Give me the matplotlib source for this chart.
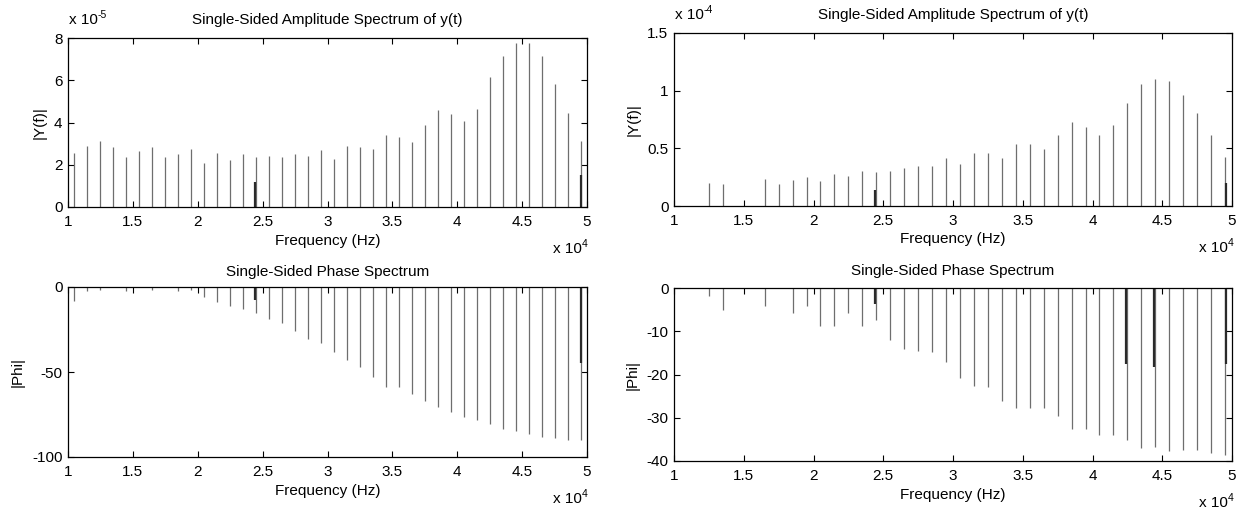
import numpy as np
import matplotlib
matplotlib.use("Agg")
import matplotlib.pyplot as plt

plt.rcParams['font.family'] = ['Liberation Sans', 'DejaVu Sans']
plt.rcParams['axes.unicode_minus'] = False

# Frequencies (Hz) of the main spectral lines
freq = np.arange(40) * 1000 + 10500

# Amplitude spectrum, left (units of 1e-5)
amp_left = [2.57, 2.89, 3.11, 2.82, 2.35, 2.63, 2.82, 2.35, 2.52, 2.76,
            2.10, 2.57, 2.22, 2.52, 2.35, 2.41, 2.35, 2.52, 2.41, 2.70,
            2.29, 2.89, 2.82, 2.76, 3.42, 3.30, 3.06, 3.88, 4.61, 4.42,
            4.05, 4.65, 6.14, 7.15, 7.74, 7.74, 7.15, 5.84, 4.46, 3.11]
amp_left_extra_f = [24400, 49550]
amp_left_extra = [1.16, 1.50]

# Amplitude spectrum, right (units of 1e-4)
amp_right = [0, 0, 0.203, 0.194, 0, 0, 0.238, 0.194, 0.226, 0.249,
             0.215, 0.281, 0.261, 0.305, 0.293, 0.305, 0.328, 0.351, 0.348, 0.415,
             0.360, 0.458, 0.458, 0.415, 0.537, 0.537, 0.493, 0.615, 0.725, 0.682,
             0.615, 0.705, 0.891, 1.059, 1.105, 1.085, 0.960, 0.804, 0.615, 0.426]
amp_right_extra_f = [24400, 49550]
amp_right_extra = [0.136, 0.203]

# Phase spectrum, left
phi_left = [-8.1, -2.6, -2.0, 0, -2.6, 0, -1.8, 0, -2.6, -1.8,
            -5.9, -9.1, -11.0, -13.0, -15.0, -18.9, -20.9, -25.8, -30.5, -32.7,
            -38.0, -42.9, -46.9, -53.0, -58.7, -58.7, -63.2, -66.9, -70.5, -73.4,
            -76.4, -78.0, -80.3, -83.3, -84.8, -86.2, -88.2, -88.8, -89.8, -89.8]
phi_left_extra_f = [24400, 49550]
phi_left_extra = [-7.5, -44.9]

# Phase spectrum, right
phi_right = [0, 0, -1.86, -5.2, 0, 0, -4.25, 0, -5.7, -4.25,
             -8.7, -8.9, -5.7, -8.7, -7.3, -12.0, -14.1, -14.6, -14.8, -17.0,
             -20.9, -22.7, -23.0, -26.2, -27.7, -27.7, -27.7, -29.5, -32.5, -32.5,
             -34.0, -34.0, -35.2, -36.9, -36.7, -37.8, -37.5, -37.5, -38.1, -38.6]
phi_right_extra_f = [24400, 42400, 44400, 49550]
phi_right_extra = [-3.6, -17.6, -18.3, -17.6]

xticks = [1, 1.5, 2, 2.5, 3, 3.5, 4, 4.5, 5]
xticklabels = ['1', '1.5', '2', '2.5', '3', '3.5', '4', '4.5', '5']

W, H = 1242, 512
fig = plt.figure(figsize=(W / 100, H / 100), dpi=100)

def px_axes(x0, y0, x1, y1):
    return fig.add_axes([x0 / W, (H - y1) / H, (x1 - x0) / W, (y1 - y0) / H])

FS = 11
SUP = 7.5
GRAY = '#6e6e6e'
DARK = '#2a2a2a'

def mult(ax, x, exp, dy):
    # "x 10" followed by a small superscript exponent, MATLAB style
    t = ax.annotate('x 10', xy=(x, 1 if dy > 0 else 0), xycoords='axes fraction',
                    xytext=(0, dy), textcoords='offset points',
                    ha='left', va='center', fontsize=FS)
    fig.canvas.draw()
    bb = t.get_window_extent()
    ax.annotate(exp, xy=(bb.x1 / W, (bb.y1 - 2) / H), xycoords='figure fraction',
                ha='left', va='center', fontsize=SUP)

def style(ax, ylim, yticks, title, ylabel, tpad):
    ax.set_xlim(1, 5)
    ax.set_ylim(*ylim)
    ax.set_xticks(xticks)
    ax.set_xticklabels(xticklabels)
    ax.set_yticks(yticks)
    ax.set_yticklabels([('%g' % t) for t in yticks])
    ax.tick_params(direction='in', length=4, width=0.8, top=True, right=True,
                   labelsize=FS, colors='black')
    ax.tick_params(axis='x', pad=6)
    ax.tick_params(axis='y', pad=4)
    for s in ax.spines.values():
        s.set_linewidth(0.9)
        s.set_color('black')
    ax.set_title(title, fontsize=FS, pad=tpad)
    ax.set_xlabel('Frequency (Hz)', fontsize=FS, labelpad=3)
    ax.set_ylabel(ylabel, fontsize=FS, labelpad=5)

def draw(ax, main, ef, ev):
    ax.vlines(freq / 1e4, 0, main, color=GRAY, linewidth=0.9)
    ax.vlines(np.array(ef) / 1e4, 0, ev, color=DARK, linewidth=1.6)

ax1 = px_axes(68, 38, 587, 207)
draw(ax1, amp_left, amp_left_extra_f, amp_left_extra)
style(ax1, (0, 8), [0, 2, 4, 6, 8], 'Single-Sided Amplitude Spectrum of y(t)', '|Y(f)|', 10)

ax2 = px_axes(674, 33, 1232, 206)
draw(ax2, amp_right, amp_right_extra_f, amp_right_extra)
style(ax2, (0, 1.5), [0, 0.5, 1, 1.5], 'Single-Sided Amplitude Spectrum of y(t)', '|Y(f)|', 10)

ax3 = px_axes(68, 287, 587, 457)
draw(ax3, phi_left, phi_left_extra_f, phi_left_extra)
style(ax3, (-100, 0), [-100, -50, 0], 'Single-Sided Phase Spectrum', '|Phi|', 8)

ax4 = px_axes(674, 288, 1232, 461)
draw(ax4, phi_right, phi_right_extra_f, phi_right_extra)
style(ax4, (-40, 0), [-40, -30, -20, -10, 0], 'Single-Sided Phase Spectrum', '|Phi|', 9)

# multipliers
mult(ax1, 0.002, '-5', 13)
mult(ax2, 0.002, '-4', 13)
for ax, xf in [(ax1, 0.935), (ax2, 0.94), (ax3, 0.935), (ax4, 0.94)]:
    mult(ax, xf, '4', -30)

fig.savefig('out.png', dpi=100, facecolor='white')
